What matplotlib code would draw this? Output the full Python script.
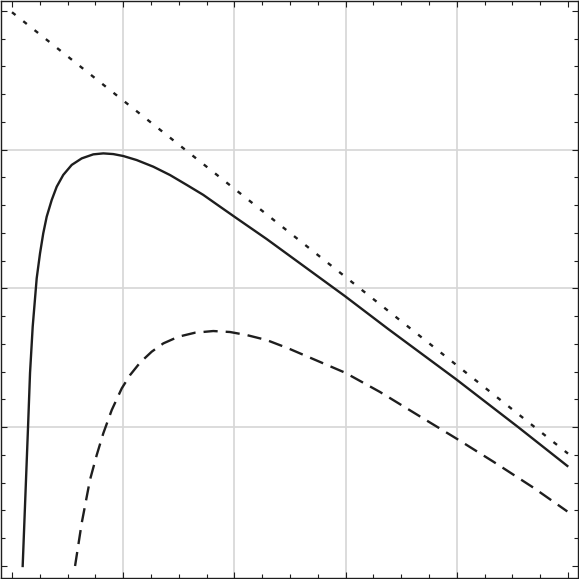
import matplotlib
matplotlib.use('Agg')
import matplotlib.pyplot as plt
import numpy as np

# values (x: 0..5, y: 0..4 between the outer major ticks)
solid_x = [0.096, 0.144, 0.162, 0.186, 0.222, 0.252, 0.281, 0.312, 0.357, 0.402,
           0.461, 0.537, 0.627, 0.731, 0.821, 0.911, 1.001, 1.121, 1.271, 1.421,
           1.571, 1.720, 1.871, 2.021, 2.290, 2.995, 3.384, 3.993, 4.553, 4.994]
solid_y = [0.0, 0.998, 1.39, 1.724, 2.073, 2.253, 2.397, 2.517, 2.637, 2.733,
           2.818, 2.890, 2.937, 2.966, 2.973, 2.968, 2.954, 2.925, 2.877, 2.817,
           2.746, 2.674, 2.589, 2.505, 2.356, 1.944, 1.707, 1.346, 1.0, 0.721]

dashed_x = [0.567, 0.627, 0.701, 0.762, 0.821, 0.897, 0.987, 1.061, 1.151, 1.256,
            1.361, 1.496, 1.646, 1.810, 1.960, 2.111, 2.290, 2.485, 2.995, 3.309,
            3.699, 3.993, 4.328, 4.688, 4.994]
dashed_y = [0.0, 0.310, 0.620, 0.80, 0.956, 1.124, 1.280, 1.375, 1.465, 1.544,
            1.604, 1.652, 1.681, 1.693, 1.686, 1.664, 1.628, 1.568, 1.393, 1.254,
            1.063, 0.920, 0.752, 0.565, 0.393]

dotted_x = [0.0, 5.0]
dotted_y = [3.99, 0.81]

x_major = [0, 1, 2, 3, 4, 5]
y_major = [0, 1, 2, 3, 4]

W = 579
fig = plt.figure(figsize=(W / 100, W / 100), dpi=100)
ax = fig.add_axes([1 / W, 1 / W, 577 / W, 577 / W])

ink = '#1e1e1e'
lw = 1.7
ax.plot(solid_x, solid_y, color=ink, lw=lw, solid_joinstyle='round', zorder=3)
ax.plot(dashed_x, dashed_y, color=ink, lw=lw, linestyle=(0, (6.0, 3.4)), zorder=3)
ax.plot(dotted_x, dotted_y, color=ink, lw=lw, linestyle=(0, (1.9, 4.2)), zorder=3)

ax.set_xlim(-0.099, 5.090)
ax.set_ylim(-0.0865, 4.071)

ax.set_xticks(x_major)
ax.set_yticks(y_major)
ax.set_xticks(np.arange(0, 5.01, 0.25), minor=True)
ax.set_yticks(np.arange(0, 4.01, 0.2), minor=True)
ax.set_xticklabels([])
ax.set_yticklabels([])
ax.tick_params(which='both', direction='in', top=True, right=True, color=ink, width=0.8)
ax.tick_params(which='major', length=4.5)
ax.tick_params(which='minor', length=3)

ax.grid(True, which='major', color='#d6d6d6', lw=1.2, zorder=0)
ax.set_axisbelow(True)
for t in ax.xaxis.get_major_ticks():
    if t.get_loc() in (0, 5):
        t.gridline.set_visible(False)
for t in ax.yaxis.get_major_ticks():
    if t.get_loc() in (0, 4):
        t.gridline.set_visible(False)

for s in ax.spines.values():
    s.set_color(ink)
    s.set_linewidth(1.0)

fig.savefig('out.png', dpi=100)
